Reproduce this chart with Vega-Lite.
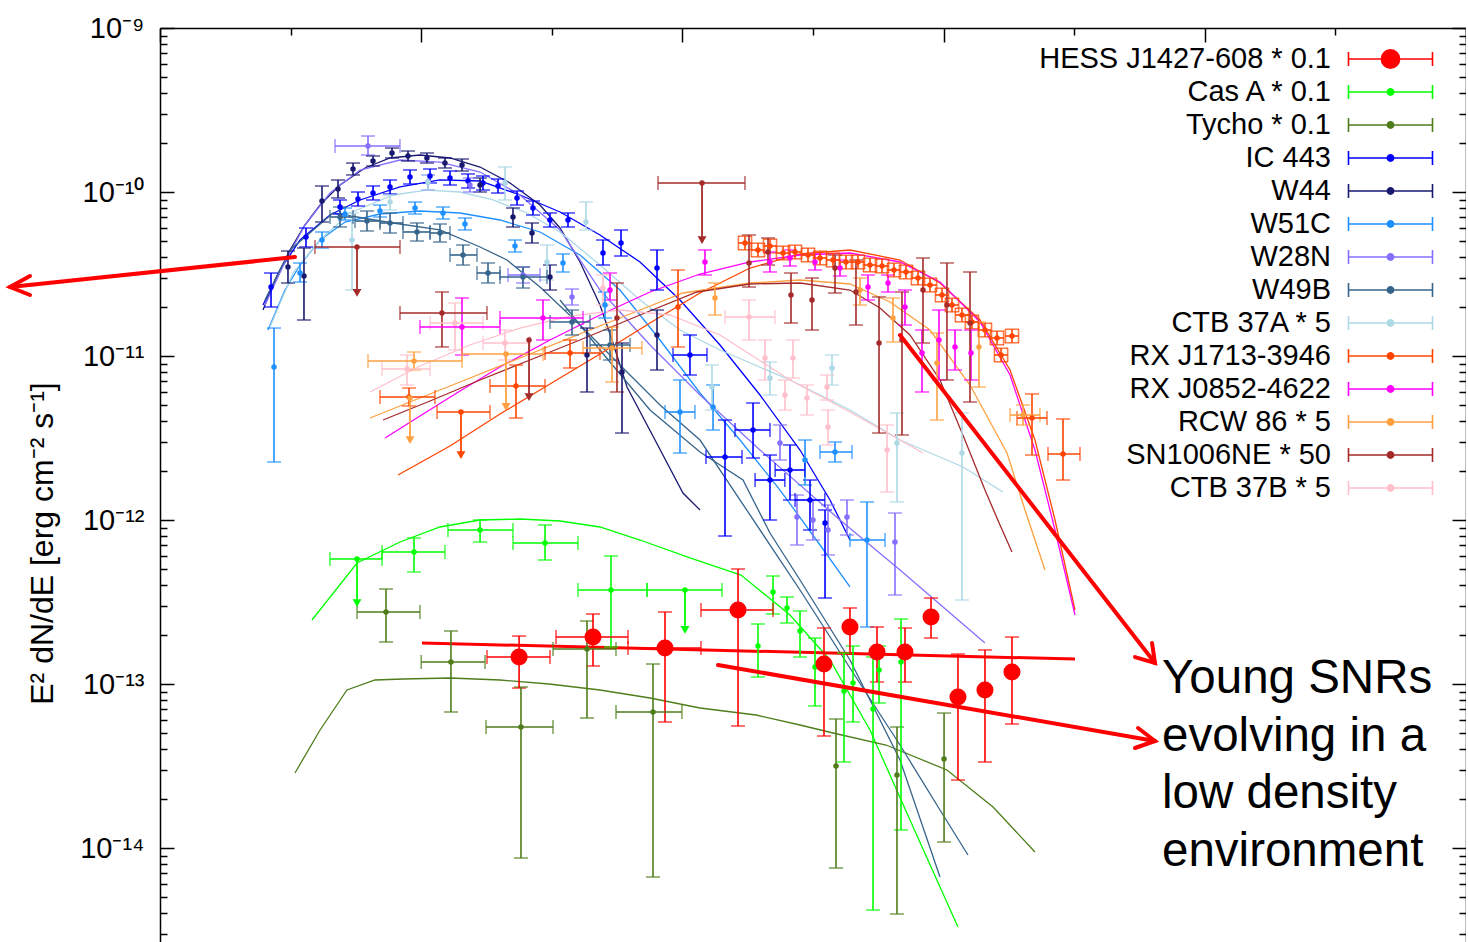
{
"$schema": "https://vega.github.io/schema/vega-lite/v6.json",
"width": 1306, "height": 914,
"autosize": {"type": "none"},
"padding": {"left": 160, "top": 28, "right": 0, "bottom": 0},
"background": "white",
"config": {"view": {"stroke": null}, "font": "Liberation Sans"},
"datasets": {
"pts": [
{"s":"HESS J1427-608 * 0.1","x":2.37,"y":1.46e-13,"lo":9.45e-14,"hi":1.96e-13,"xl":1.786,"xh":3.112},
{"s":"HESS J1427-608 * 0.1","x":4.547,"y":1.934e-13,"lo":1.288e-13,"hi":2.672e-13,"xl":3.282,"xh":6.19},
{"s":"HESS J1427-608 * 0.1","x":8.578,"y":1.658e-13,"lo":5.867e-14,"hi":2.748e-13,"xl":6.19,"xh":11.78},
{"s":"HESS J1427-608 * 0.1","x":16.33,"y":2.826e-13,"lo":5.546e-14,"hi":5.026e-13,"xl":11.78,"xh":22.23},
{"s":"HESS J1427-608 * 0.1","x":34.84,"y":1.324e-13,"lo":4.818e-14,"hi":2.195e-13},
{"s":"HESS J1427-608 * 0.1","x":43.81,"y":2.226e-13,"lo":1.545e-13,"hi":2.907e-13},
{"s":"HESS J1427-608 * 0.1","x":55.59,"y":1.567e-13,"lo":1.028e-13,"hi":2.226e-13},
{"s":"HESS J1427-608 * 0.1","x":71.15,"y":1.567e-13,"lo":1.028e-13,"hi":2.195e-13},
{"s":"HESS J1427-608 * 0.1","x":89.51,"y":2.561e-13,"lo":1.907e-13,"hi":3.345e-13},
{"s":"HESS J1427-608 * 0.1","x":113.5,"y":8.331e-14,"lo":2.597e-14,"hi":1.523e-13},
{"s":"HESS J1427-608 * 0.1","x":144,"y":9.192e-14,"lo":3.345e-14,"hi":1.612e-13},
{"s":"HESS J1427-608 * 0.1","x":182.7,"y":1.184e-13,"lo":5.704e-14,"hi":1.934e-13},
{"s":"Cas A * 0.1","x":0.568,"y":5.784e-13,"ul":3.118e-13,"xl":0.4475,"xh":0.708},
{"s":"Cas A * 0.1","x":0.9385,"y":6.381e-13,"lo":4.818e-13,"hi":7.767e-13,"xl":0.708,"xh":1.233},
{"s":"Cas A * 0.1","x":1.68,"y":8.69e-13,"lo":7.343e-13,"hi":1e-12,"xl":1.266,"xh":2.246},
{"s":"Cas A * 0.1","x":2.979,"y":7.24e-13,"lo":5.704e-13,"hi":9.322e-13,"xl":2.246,"xh":3.984},
{"s":"Cas A * 0.1","x":5.33,"y":3.743e-13,"lo":1.681e-13,"hi":6.033e-13,"xl":3.984,"xh":7.32},
{"s":"Cas A * 0.1","x":10.23,"y":3.743e-13,"ul":2.135e-13,"xl":7.32,"xh":14.18},
{"s":"Cas A * 0.1","x":19.47,"y":1.705e-13,"lo":1.103e-13,"hi":2.322e-13},
{"s":"Cas A * 0.1","x":22.23,"y":3.639e-13,"lo":2.672e-13,"hi":4.555e-13},
{"s":"Cas A * 0.1","x":25.15,"y":2.907e-13,"lo":2.355e-13,"hi":3.392e-13},
{"s":"Cas A * 0.1","x":28.2,"y":2.105e-13,"lo":1.46e-13,"hi":2.787e-13},
{"s":"Cas A * 0.1","x":32.19,"y":1.27e-13,"lo":7.343e-14,"hi":1.907e-13},
{"s":"Cas A * 0.1","x":41.56,"y":9.064e-14,"lo":3.345e-14,"hi":1.545e-13},
{"s":"Cas A * 0.1","x":44.99,"y":1.014e-13,"lo":5.867e-14,"hi":1.705e-13},
{"s":"Cas A * 0.1","x":53.67,"y":7.04e-14,"lo":4.188e-15,"hi":1.46e-13},
{"s":"Cas A * 0.1","x":56.6,"y":1.217e-13,"lo":7.658e-14,"hi":1.705e-13},
{"s":"Cas A * 0.1","x":68.7,"y":1.362e-13,"lo":1.288e-14,"hi":2.49e-13},
{"s":"Tycho * 0.1","x":0.7333,"y":2.748e-13,"lo":1.804e-13,"hi":3.796e-13,"xl":0.5679,"xh":0.989},
{"s":"Tycho * 0.1","x":1.3,"y":1.362e-13,"lo":6.75e-14,"hi":2.105e-13,"xl":1.0,"xh":1.755},
{"s":"Tycho * 0.1","x":2.41,"y":5.467e-14,"lo":8.69e-15,"hi":9.588e-14,"xl":1.771,"xh":3.196},
{"s":"Tycho * 0.1","x":4.313,"y":1.635e-13,"lo":6.205e-14,"hi":2.422e-13,"xl":3.196,"xh":5.569},
{"s":"Tycho * 0.1","x":7.717,"y":6.75e-14,"lo":6.655e-15,"hi":1.324e-13,"xl":5.569,"xh":9.96},
{"s":"Tycho * 0.1","x":38.73,"y":3.162e-14,"lo":7.551e-15,"hi":6.118e-14},
{"s":"Tycho * 0.1","x":66.3,"y":2.787e-14,"lo":3.959e-15,"hi":5.467e-14},
{"s":"Tycho * 0.1","x":100.4,"y":3.488e-14,"lo":1.088e-14,"hi":6.655e-14},
{"s":"IC 443","x":0.2661,"y":2.634e-11,"lo":1.99e-11,"hi":3.207e-11},
{"s":"IC 443","x":0.3622,"y":5.316e-11,"lo":4.619e-11,"hi":6.033e-11},
{"s":"IC 443","x":0.4888,"y":8.1e-11,"lo":7.343e-11,"hi":8.939e-11},
{"s":"IC 443","x":0.5728,"y":9.064e-11,"lo":8.214e-11,"hi":1e-10},
{"s":"IC 443","x":0.6539,"y":9.86e-11,"lo":8.939e-11,"hi":1.088e-10},
{"s":"IC 443","x":0.7596,"y":1.073e-10,"lo":9.723e-11,"hi":1.184e-10},
{"s":"IC 443","x":0.906,"y":1.234e-10,"lo":1.119e-10,"hi":1.362e-10},
{"s":"IC 443","x":1.081,"y":1.252e-10,"lo":1.135e-10,"hi":1.381e-10},
{"s":"IC 443","x":1.289,"y":1.217e-10,"lo":1.103e-10,"hi":1.343e-10},
{"s":"IC 443","x":1.511,"y":1.167e-10,"lo":1.058e-10,"hi":1.288e-10},
{"s":"IC 443","x":1.724,"y":1.135e-10,"lo":1.028e-10,"hi":1.252e-10},
{"s":"IC 443","x":1.968,"y":1.088e-10,"lo":9.86e-11,"hi":1.2e-10},
{"s":"IC 443","x":2.327,"y":9.192e-11,"lo":8.331e-11,"hi":1.014e-10},
{"s":"IC 443","x":2.679,"y":7.987e-11,"lo":7.24e-11,"hi":8.812e-11},
{"s":"IC 443","x":3.112,"y":6.75e-11,"lo":6.118e-11,"hi":7.447e-11},
{"s":"IC 443","x":3.648,"y":6.75e-11,"lo":6.118e-11,"hi":7.447e-11},
{"s":"IC 443","x":4.966,"y":4.246e-11,"lo":3.588e-11,"hi":5.096e-11},
{"s":"IC 443","x":5.82,"y":4.887e-11,"lo":4.071e-11,"hi":5.867e-11},
{"s":"IC 443","x":7.994,"y":3.44e-11,"lo":2.526e-11,"hi":4.43e-11},
{"s":"IC 443","x":10.69,"y":1.014e-11,"lo":7.658e-12,"hi":1.343e-11,"xl":9.204,"xh":12.42},
{"s":"IC 443","x":14.56,"y":2.422e-12,"lo":7.987e-13,"hi":4.071e-12,"xl":12.31,"xh":16.91},
{"s":"IC 443","x":18.64,"y":3.538e-12,"lo":2.388e-12,"hi":5.168e-12,"xl":15.9,"xh":21.64},
{"s":"IC 443","x":21.64,"y":1.753e-12,"lo":1e-12,"hi":2.49e-12,"xl":18.98,"xh":24.67},
{"s":"IC 443","x":25.82,"y":2.018e-12,"lo":1.324e-12,"hi":2.867e-12,"xl":22.65,"xh":29.43},
{"s":"IC 443","x":30.8,"y":1.324e-12,"lo":8.69e-13,"hi":1.753e-12,"xl":27.0,"xh":35.1},
{"s":"IC 443","x":35.16,"y":9.588e-13,"lo":3.345e-13,"hi":1.151e-12},
{"s":"W44","x":0.309,"y":3.488e-11,"lo":2.787e-11,"hi":4.367e-11},
{"s":"W44","x":0.3558,"y":3.074e-11,"lo":1.658e-11,"hi":4.555e-11},
{"s":"W44","x":0.4171,"y":8.812e-11,"lo":6.563e-11,"hi":1.088e-10},
{"s":"W44","x":0.4802,"y":1.043e-10,"lo":9.192e-11,"hi":1.184e-10},
{"s":"W44","x":0.5482,"y":1.381e-10,"lo":1.27e-10,"hi":1.502e-10},
{"s":"W44","x":0.6539,"y":1.545e-10,"lo":1.44e-10,"hi":1.658e-10},
{"s":"W44","x":0.7731,"y":1.729e-10,"lo":1.612e-10,"hi":1.855e-10},
{"s":"W44","x":0.8903,"y":1.658e-10,"lo":1.545e-10,"hi":1.778e-10},
{"s":"W44","x":1.052,"y":1.612e-10,"lo":1.502e-10,"hi":1.729e-10},
{"s":"W44","x":1.233,"y":1.502e-10,"lo":1.401e-10,"hi":1.612e-10},
{"s":"W44","x":1.433,"y":1.461e-10,"lo":1.343e-10,"hi":1.589e-10},
{"s":"W44","x":1.68,"y":1.103e-10,"lo":1e-10,"hi":1.217e-10},
{"s":"W44","x":2.246,"y":7.04e-11,"lo":6.118e-11,"hi":7.987e-11},
{"s":"W44","x":2.656,"y":5.623e-11,"lo":4.887e-11,"hi":6.471e-11},
{"s":"W44","x":3.112,"y":3.031e-11,"lo":2.526e-11,"hi":3.588e-11},
{"s":"W44","x":4.313,"y":1.014e-11,"lo":6.033e-12,"hi":1.481e-11},
{"s":"W44","x":5.872,"y":7.987e-12,"lo":3.392e-12,"hi":1.2e-11},
{"s":"W44","x":7.994,"y":1.343e-11,"lo":8.214e-12,"hi":1.907e-11},
{"s":"W51C","x":0.2732,"y":8.568e-12,"lo":2.258e-12,"hi":1.481e-11},
{"s":"W51C","x":0.3436,"y":3.207e-11,"lo":2.826e-11,"hi":3.691e-11},
{"s":"W51C","x":0.4171,"y":5.096e-11,"lo":4.555e-11,"hi":5.704e-11},
{"s":"W51C","x":0.5109,"y":7.343e-11,"lo":6.75e-11,"hi":7.987e-11},
{"s":"W51C","x":0.6955,"y":7.658e-11,"lo":7.04e-11,"hi":8.331e-11},
{"s":"W51C","x":0.947,"y":7.987e-11,"lo":7.343e-11,"hi":8.69e-11},
{"s":"W51C","x":1.212,"y":7.447e-11,"lo":6.845e-11,"hi":8.1e-11},
{"s":"W51C","x":1.471,"y":6.381e-11,"lo":5.867e-11,"hi":6.942e-11},
{"s":"W51C","x":2.286,"y":4.685e-11,"lo":4.306e-11,"hi":5.096e-11},
{"s":"W51C","x":3.49,"y":3.691e-11,"lo":3.252e-11,"hi":4.188e-11},
{"s":"W51C","x":5.055,"y":2.046e-11,"lo":1.705e-11,"hi":2.456e-11},
{"s":"W51C","x":9.79,"y":4.555e-12,"lo":2.561e-12,"hi":7.14e-12,"xl":8.578,"xh":11.17},
{"s":"W51C","x":13.1,"y":4.887e-12,"lo":3.538e-12,"hi":6.655e-12},
{"s":"W51C","x":29.47,"y":2.322e-12,"lo":1.635e-12,"hi":3.074e-12},
{"s":"W51C","x":38.39,"y":2.597e-12,"lo":2.258e-12,"hi":2.989e-12,"xl":33.64,"xh":44.61},
{"s":"W51C","x":50.9,"y":7.551e-13,"lo":2.226e-13,"hi":1.288e-12,"xl":43.81,"xh":59.66},
{"s":"W28N","x":0.6256,"y":1.907e-10,"lo":1.681e-10,"hi":2.195e-10,"xl":0.4677,"xh":0.8294},
{"s":"W28N","x":1.062,"y":1.151e-10,"lo":1.028e-10,"hi":1.27e-10},
{"s":"W28N","x":1.537,"y":1.103e-10,"lo":1e-10,"hi":1.217e-10},
{"s":"W28N","x":2.453,"y":3.118e-11,"lo":2.787e-11,"hi":3.488e-11,"xl":2.149,"xh":2.85},
{"s":"W28N","x":3.779,"y":2.29e-11,"lo":2.046e-11,"hi":2.561e-11},
{"s":"W28N","x":23.64,"y":2.948e-12,"lo":2.322e-12,"hi":3.796e-12},
{"s":"W28N","x":27.46,"y":1.043e-12,"lo":7.04e-13,"hi":1.42e-12},
{"s":"W28N","x":31.62,"y":1e-12,"lo":7.551e-13,"hi":1.324e-12},
{"s":"W28N","x":36.1,"y":8.69e-13,"lo":6.118e-13,"hi":1.234e-12},
{"s":"W28N","x":42.67,"y":1.043e-12,"lo":8.1e-13,"hi":1.324e-12},
{"s":"W28N","x":65.15,"y":7.343e-13,"lo":3.488e-13,"hi":1.103e-12},
{"s":"W49B","x":0.4888,"y":7.04e-11,"lo":6.118e-11,"hi":8.1e-11,"xl":0.4475,"xh":0.5482},
{"s":"W49B","x":0.62,"y":6.655e-11,"lo":5.784e-11,"hi":7.658e-11,"xl":0.558,"xh":0.6955},
{"s":"W49B","x":0.7596,"y":6.471e-11,"lo":5.623e-11,"hi":7.447e-11,"xl":0.6955,"xh":0.8518},
{"s":"W49B","x":0.9636,"y":5.704e-11,"lo":5.026e-11,"hi":6.471e-11,"xl":0.8518,"xh":1.081},
{"s":"W49B","x":1.18,"y":5.623e-11,"lo":4.956e-11,"hi":6.381e-11,"xl":1.081,"xh":1.289},
{"s":"W49B","x":1.446,"y":4.13e-11,"lo":3.588e-11,"hi":4.751e-11,"xl":1.289,"xh":1.635},
{"s":"W49B","x":1.802,"y":3.207e-11,"lo":2.787e-11,"hi":3.691e-11,"xl":1.635,"xh":2.003},
{"s":"W49B","x":2.453,"y":3.031e-11,"lo":2.597e-11,"hi":3.488e-11,"xl":2.003,"xh":3.031},
{"s":"W49B","x":3.779,"y":1.612e-11,"lo":1.343e-11,"hi":1.907e-11,"xl":3.112,"xh":4.43},
{"s":"W49B","x":5.283,"y":1.167e-11,"lo":9.454e-12,"hi":1.44e-11,"xl":4.43,"xh":6.301},
{"s":"CTB 37A * 5","x":0.5434,"y":5.096e-11,"lo":2.526e-11,"hi":7.447e-11},
{"s":"CTB 37A * 5","x":0.7596,"y":8.69e-11,"lo":7.767e-11,"hi":9.588e-11},
{"s":"CTB 37A * 5","x":1.062,"y":1.151e-10,"lo":1.028e-10,"hi":1.27e-10},
{"s":"CTB 37A * 5","x":2.094,"y":1.135e-10,"lo":8.939e-11,"hi":1.42e-10},
{"s":"CTB 37A * 5","x":4.274,"y":6.563e-11,"lo":5.867e-11,"hi":8.69e-11},
{"s":"CTB 37A * 5","x":3.031,"y":3.743e-11,"lo":2.907e-11,"hi":4.751e-11},
{"s":"CTB 37A * 5","x":12.98,"y":6.471e-12,"lo":4.685e-12,"hi":8.812e-12},
{"s":"CTB 37A * 5","x":21.64,"y":7.343e-12,"lo":5.784e-12,"hi":9.192e-12},
{"s":"CTB 37A * 5","x":37.39,"y":8.452e-12,"lo":6.655e-12,"hi":1.014e-11},
{"s":"CTB 37A * 5","x":66.3,"y":2.948e-12,"lo":1.288e-12,"hi":4.492e-12},
{"s":"CTB 37A * 5","x":117.6,"y":2.561e-12,"lo":3.252e-13,"hi":4.492e-12},
{"s":"RX J1713-3946","x":0.8982,"y":5.623e-12,"lo":4.956e-12,"hi":6.381e-12,"xl":0.6955,"xh":1.129},
{"s":"RX J1713-3946","x":1.42,"y":4.555e-12,"ul":2.49e-12,"xl":1.15,"xh":1.834},
{"s":"RX J1713-3946","x":2.306,"y":6.563e-12,"lo":4.188e-12,"hi":8.812e-12,"xl":1.834,"xh":2.979},
{"s":"RX J1713-3946","x":3.713,"y":1.043e-11,"lo":8.452e-12,"hi":1.252e-11,"xl":2.979,"xh":4.836},
{"s":"RX J1713-3946","x":9.621,"y":1.99e-11,"lo":1.135e-11,"hi":3.345e-11},
{"s":"RX J1713-3946","x":17.36,"y":4.887e-11,"lo":4.443e-11,"hi":5.376e-11,"xl":16.38,"xh":18.4},
{"s":"RX J1713-3946","x":19.47,"y":4.43e-11,"lo":4.027e-11,"hi":4.873e-11,"xl":18.37,"xh":20.64},
{"s":"RX J1713-3946","x":21.64,"y":4.685e-11,"lo":4.259e-11,"hi":5.154e-11,"xl":20.42,"xh":22.94},
{"s":"RX J1713-3946","x":24.28,"y":4.246e-11,"lo":3.86e-11,"hi":4.671e-11,"xl":22.91,"xh":25.74},
{"s":"RX J1713-3946","x":26.99,"y":4.306e-11,"lo":3.915e-11,"hi":4.737e-11,"xl":25.46,"xh":28.61},
{"s":"RX J1713-3946","x":30.26,"y":4.13e-11,"lo":3.755e-11,"hi":4.543e-11,"xl":28.55,"xh":32.08},
{"s":"RX J1713-3946","x":33.64,"y":3.959e-11,"lo":3.599e-11,"hi":4.355e-11,"xl":31.74,"xh":35.66},
{"s":"RX J1713-3946","x":37.72,"y":3.849e-11,"lo":3.499e-11,"hi":4.234e-11,"xl":35.58,"xh":39.98},
{"s":"RX J1713-3946","x":42.3,"y":3.743e-11,"lo":3.403e-11,"hi":4.117e-11,"xl":39.91,"xh":44.84},
{"s":"RX J1713-3946","x":47.02,"y":3.743e-11,"lo":3.403e-11,"hi":4.117e-11,"xl":44.36,"xh":49.84},
{"s":"RX J1713-3946","x":52.26,"y":3.588e-11,"lo":3.262e-11,"hi":3.947e-11,"xl":49.3,"xh":55.4},
{"s":"RX J1713-3946","x":58.1,"y":3.538e-11,"lo":3.216e-11,"hi":3.892e-11,"xl":54.81,"xh":61.59},
{"s":"RX J1713-3946","x":64.58,"y":3.345e-11,"lo":3.041e-11,"hi":3.68e-11,"xl":60.92,"xh":68.45},
{"s":"RX J1713-3946","x":71.78,"y":3.252e-11,"lo":2.956e-11,"hi":3.577e-11,"xl":67.72,"xh":76.09},
{"s":"RX J1713-3946","x":79.8,"y":2.989e-11,"lo":2.717e-11,"hi":3.288e-11,"xl":75.28,"xh":84.59},
{"s":"RX J1713-3946","x":88.72,"y":2.709e-11,"lo":2.463e-11,"hi":2.98e-11,"xl":83.7,"xh":94.04},
{"s":"RX J1713-3946","x":98.6,"y":2.355e-11,"lo":2.141e-11,"hi":2.591e-11,"xl":93.02,"xh":104.5},
{"s":"RX J1713-3946","x":107.7,"y":2.046e-11,"lo":1.86e-11,"hi":2.251e-11,"xl":101.6,"xh":114.2},
{"s":"RX J1713-3946","x":117.6,"y":1.778e-11,"lo":1.616e-11,"hi":1.956e-11,"xl":110.9,"xh":124.7},
{"s":"RX J1713-3946","x":128.4,"y":1.612e-11,"lo":1.465e-11,"hi":1.773e-11,"xl":121.1,"xh":136.1},
{"s":"RX J1713-3946","x":144,"y":1.44e-11,"lo":1.309e-11,"hi":1.584e-11,"xl":135.8,"xh":152.6},
{"s":"RX J1713-3946","x":160.1,"y":1.288e-11,"lo":1.171e-11,"hi":1.417e-11,"xl":151,"xh":169.7},
{"s":"RX J1713-3946","x":182.7,"y":1.324e-11,"lo":1.204e-11,"hi":1.456e-11,"xl":172.4,"xh":193.7},
{"s":"RX J1713-3946","x":165.9,"y":1.014e-11,"lo":9.218e-12,"hi":1.115e-11,"xl":156.5,"xh":175.9},
{"s":"RX J1713-3946","x":218,"y":4.188e-12,"lo":2.49e-12,"hi":5.867e-12,"xl":191,"xh":248.8},
{"s":"RX J1713-3946","x":286.5,"y":2.526e-12,"lo":1.753e-12,"hi":4.13e-12,"xl":251,"xh":332.8},
{"s":"RX J0852-4622","x":1.433,"y":1.502e-11,"lo":1.014e-11,"hi":2.258e-11,"xl":0.989,"xh":2.003},
{"s":"RX J0852-4622","x":2.926,"y":1.705e-11,"lo":1.252e-11,"hi":2.195e-11,"xl":2.003,"xh":4.164},
{"s":"RX J0852-4622","x":5.283,"y":2.526e-11,"lo":2.195e-11,"hi":3.207e-11},
{"s":"RX J0852-4622","x":12.2,"y":3.743e-11,"lo":3.118e-11,"hi":4.43e-11},
{"s":"RX J0852-4622","x":21.64,"y":3.743e-11,"lo":3.252e-11,"hi":4.306e-11},
{"s":"RX J0852-4622","x":25.82,"y":3.959e-11,"lo":3.538e-11,"hi":4.43e-11},
{"s":"RX J0852-4622","x":32.19,"y":3.743e-11,"lo":3.345e-11,"hi":4.188e-11},
{"s":"RX J0852-4622","x":40.12,"y":3.44e-11,"lo":3.074e-11,"hi":3.849e-11},
{"s":"RX J0852-4622","x":51.35,"y":2.634e-11,"lo":2.195e-11,"hi":3.118e-11},
{"s":"RX J0852-4622","x":61.26,"y":2.787e-11,"lo":2.456e-11,"hi":3.118e-11},
{"s":"RX J0852-4622","x":71.15,"y":1.99e-11,"lo":1.545e-11,"hi":2.526e-11},
{"s":"RX J0852-4622","x":82.66,"y":1.043e-11,"lo":6.033e-12,"hi":1.44e-11},
{"s":"RX J0852-4622","x":96.03,"y":1.252e-11,"lo":7.14e-12,"hi":1.907e-11},
{"s":"RX J0852-4622","x":110.6,"y":1.135e-11,"lo":8.214e-12,"hi":1.44e-11},
{"s":"RX J0852-4622","x":127.3,"y":1.043e-11,"lo":7.14e-12,"hi":1.44e-11},
{"s":"RCW 86 * 5","x":0.9385,"y":9.322e-12,"lo":8.214e-12,"hi":1.058e-11,"xl":0.6256,"xh":1.433},
{"s":"RCW 86 * 5","x":2.112,"y":1.028e-11,"ul":4.887e-12,"xl":1.433,"xh":2.926},
{"s":"RCW 86 * 5","x":0.906,"y":5.546e-12,"ul":3.074e-12},
{"s":"RCW 86 * 5","x":5.377,"y":1.119e-11,"lo":6.942e-12,"hi":1.502e-11,"xl":4.164,"xh":7.004},
{"s":"RCW 86 * 5","x":13.33,"y":2.258e-11,"lo":1.778e-11,"hi":2.787e-11},
{"s":"RCW 86 * 5","x":47.86,"y":2.526e-11,"lo":2.046e-11,"hi":2.989e-11},
{"s":"RCW 86 * 5","x":64.01,"y":1.705e-11,"lo":1.217e-11,"hi":2.258e-11},
{"s":"RCW 86 * 5","x":94.35,"y":9.064e-12,"lo":4.071e-12,"hi":1.381e-11},
{"s":"RCW 86 * 5","x":136.6,"y":1.135e-11,"lo":6.471e-12,"hi":1.612e-11},
{"s":"RCW 86 * 5","x":201.4,"y":4.367e-12,"lo":3.796e-12,"hi":5.026e-12,"xl":179.6,"xh":233.9},
{"s":"SN1006NE * 50","x":0.5679,"y":4.619e-11,"ul":2.422e-11,"xl":0.392,"xh":0.8294},
{"s":"SN1006NE * 50","x":1.201,"y":1.829e-11,"lo":1.135e-11,"hi":2.456e-11,"xl":0.8294,"xh":1.786},
{"s":"SN1006NE * 50","x":2.587,"y":1.252e-11,"ul":5.623e-12},
{"s":"SN1006NE * 50","x":5.617,"y":1.705e-11,"lo":6.033e-12,"hi":2.787e-11},
{"s":"SN1006NE * 50","x":11.89,"y":1.135e-10,"ul":5.096e-11,"xl":8.066,"xh":17.36},
{"s":"SN1006NE * 50","x":17.99,"y":3.691e-11,"lo":2.634e-11,"hi":5.467e-11},
{"s":"SN1006NE * 50","x":21.27,"y":4.306e-11,"lo":3.588e-11,"hi":5.243e-11},
{"s":"SN1006NE * 50","x":26.05,"y":2.355e-11,"lo":1.589e-11,"hi":3.207e-11},
{"s":"SN1006NE * 50","x":31.35,"y":2.195e-11,"lo":1.44e-11,"hi":2.989e-11},
{"s":"SN1006NE * 50","x":38.39,"y":3.44e-11,"lo":2.422e-11,"hi":4.13e-11},
{"s":"SN1006NE * 50","x":46.19,"y":2.456e-11,"lo":1.545e-11,"hi":3.849e-11},
{"s":"SN1006NE * 50","x":56.6,"y":1.2e-11,"lo":3.392e-12,"hi":2.29e-11},
{"s":"SN1006NE * 50","x":69.29,"y":1.252e-11,"lo":3.298e-12,"hi":2.456e-11},
{"s":"SN1006NE * 50","x":83.39,"y":2.526e-11,"lo":1.2e-11,"hi":3.959e-11},
{"s":"SN1006NE * 50","x":103,"y":2.046e-11,"lo":7.14e-12,"hi":3.691e-11},
{"s":"SN1006NE * 50","x":126.2,"y":1.589e-11,"lo":5.243e-12,"hi":3.252e-11},
{"s":"CTB 37B * 5","x":0.8825,"y":8.331e-12,"lo":6.655e-12,"hi":1.014e-11,"xl":0.708,"xh":1.081},
{"s":"CTB 37B * 5","x":1.347,"y":1.589e-11,"lo":1.088e-11,"hi":2.105e-11,"xl":1.081,"xh":1.724},
{"s":"CTB 37B * 5","x":2.094,"y":1.2e-11,"lo":9.454e-12,"hi":1.44e-11,"xl":1.724,"xh":2.609},
{"s":"CTB 37B * 5","x":4.966,"y":2.597e-11,"lo":2.046e-11,"hi":3.118e-11},
{"s":"CTB 37B * 5","x":17.99,"y":1.729e-11,"lo":1.252e-11,"hi":2.195e-11,"xl":14.56,"xh":22.62},
{"s":"CTB 37B * 5","x":20.71,"y":9.723e-12,"lo":7.14e-12,"hi":1.252e-11},
{"s":"CTB 37B * 5","x":26.51,"y":9.723e-12,"lo":7.343e-12,"hi":1.252e-11},
{"s":"CTB 37B * 5","x":24.71,"y":5.784e-12,"lo":4.685e-12,"hi":7.14e-12},
{"s":"CTB 37B * 5","x":29.99,"y":5.546e-12,"lo":4.367e-12,"hi":6.655e-12},
{"s":"CTB 37B * 5","x":35.78,"y":6.471e-12,"lo":5.39e-12,"hi":7.658e-12},
{"s":"CTB 37B * 5","x":36.1,"y":3.691e-12,"lo":2.867e-12,"hi":4.685e-12},
{"s":"CTB 37B * 5","x":60.73,"y":2.672e-12,"lo":1.481e-12,"hi":3.796e-12}
],
"curves": [
{"s":"Cas A * 0.1","c":"ca","x":0.3818,"y":2.456e-13},{"s":"Cas A * 0.1","c":"ca","x":0.5679,"y":5.467e-13},{"s":"Cas A * 0.1","c":"ca","x":0.8294,"y":7.343e-13},{"s":"Cas A * 0.1","c":"ca","x":1.18,"y":9.064e-13},{"s":"Cas A * 0.1","c":"ca","x":1.68,"y":1e-12},{"s":"Cas A * 0.1","c":"ca","x":2.389,"y":1.014e-12},{"s":"Cas A * 0.1","c":"ca","x":3.4,"y":9.86e-13},{"s":"Cas A * 0.1","c":"ca","x":4.836,"y":9.064e-13},{"s":"Cas A * 0.1","c":"ca","x":6.882,"y":7.551e-13},{"s":"Cas A * 0.1","c":"ca","x":10.69,"y":5.867e-13},{"s":"Cas A * 0.1","c":"ca","x":16.76,"y":4.619e-13},{"s":"Cas A * 0.1","c":"ca","x":25.82,"y":2.634e-13},{"s":"Cas A * 0.1","c":"ca","x":36.74,"y":1.401e-13},{"s":"Cas A * 0.1","c":"ca","x":52.26,"y":5.243e-14},{"s":"Cas A * 0.1","c":"ca","x":74.36,"y":1.481e-14},{"s":"Cas A * 0.1","c":"ca","x":113.5,"y":3.298e-15},
{"s":"Tycho * 0.1","c":"ty","x":0.3287,"y":2.867e-14},{"s":"Tycho * 0.1","c":"ty","x":0.41,"y":5.243e-14},{"s":"Tycho * 0.1","c":"ty","x":0.5198,"y":9.192e-14},{"s":"Tycho * 0.1","c":"ty","x":0.6654,"y":1.058e-13},{"s":"Tycho * 0.1","c":"ty","x":0.8518,"y":1.073e-13},{"s":"Tycho * 0.1","c":"ty","x":1.289,"y":1.088e-13},{"s":"Tycho * 0.1","c":"ty","x":2.003,"y":1.058e-13},{"s":"Tycho * 0.1","c":"ty","x":3.085,"y":1e-13},{"s":"Tycho * 0.1","c":"ty","x":4.836,"y":9.192e-14},{"s":"Tycho * 0.1","c":"ty","x":7.516,"y":8.214e-14},{"s":"Tycho * 0.1","c":"ty","x":11.68,"y":7.14e-14},{"s":"Tycho * 0.1","c":"ty","x":19.13,"y":6.471e-14},{"s":"Tycho * 0.1","c":"ty","x":28.2,"y":5.623e-14},{"s":"Tycho * 0.1","c":"ty","x":37.72,"y":5.026e-14},{"s":"Tycho * 0.1","c":"ty","x":60.18,"y":4.246e-14},{"s":"Tycho * 0.1","c":"ty","x":103,"y":2.989e-14},{"s":"Tycho * 0.1","c":"ty","x":154.6,"y":1.778e-14},{"s":"Tycho * 0.1","c":"ty","x":223.8,"y":9.454e-15},
{"s":"IC 443","c":"ic","x":0.2479,"y":2.046e-11},{"s":"IC 443","c":"ic","x":0.2881,"y":3.345e-11},{"s":"IC 443","c":"ic","x":0.3436,"y":5.096e-11},{"s":"IC 443","c":"ic","x":0.4475,"y":7.24e-11},{"s":"IC 443","c":"ic","x":0.5831,"y":8.939e-11},{"s":"IC 443","c":"ic","x":0.8294,"y":1.073e-10},{"s":"IC 443","c":"ic","x":1.18,"y":1.184e-10},{"s":"IC 443","c":"ic","x":1.68,"y":1.167e-10},{"s":"IC 443","c":"ic","x":2.389,"y":9.588e-11},{"s":"IC 443","c":"ic","x":3.4,"y":7.551e-11},{"s":"IC 443","c":"ic","x":4.836,"y":5.467e-11},{"s":"IC 443","c":"ic","x":6.882,"y":3.743e-11},{"s":"IC 443","c":"ic","x":9.79,"y":2.195e-11},{"s":"IC 443","c":"ic","x":13.93,"y":1.167e-11},{"s":"IC 443","c":"ic","x":19.82,"y":5.784e-12},{"s":"IC 443","c":"ic","x":28.2,"y":2.672e-12},{"s":"IC 443","c":"ic","x":36.74,"y":1.324e-12},{"s":"IC 443","c":"ic","x":43.81,"y":7.551e-13},
{"s":"W44","c":"w44","x":0.2479,"y":1.907e-11},{"s":"W44","c":"w44","x":0.2756,"y":2.907e-11},{"s":"W44","c":"w44","x":0.3146,"y":4.43e-11},{"s":"W44","c":"w44","x":0.359,"y":6.293e-11},{"s":"W44","c":"w44","x":0.41,"y":8.331e-11},{"s":"W44","c":"w44","x":0.4888,"y":1.103e-10},{"s":"W44","c":"w44","x":0.6093,"y":1.401e-10},{"s":"W44","c":"w44","x":0.7596,"y":1.612e-10},{"s":"W44","c":"w44","x":0.989,"y":1.681e-10},{"s":"W44","c":"w44","x":1.289,"y":1.612e-10},{"s":"W44","c":"w44","x":1.68,"y":1.42e-10},{"s":"W44","c":"w44","x":2.188,"y":1.135e-10},{"s":"W44","c":"w44","x":2.85,"y":8.331e-11},{"s":"W44","c":"w44","x":3.4,"y":6.033e-11},{"s":"W44","c":"w44","x":4.055,"y":3.743e-11},{"s":"W44","c":"w44","x":4.836,"y":2.046e-11},{"s":"W44","c":"w44","x":5.377,"y":1.252e-11},{"s":"W44","c":"w44","x":6.137,"y":6.471e-12},{"s":"W44","c":"w44","x":7.856,"y":3.074e-12},{"s":"W44","c":"w44","x":10.05,"y":1.461e-12},{"s":"W44","c":"w44","x":11.68,"y":1.151e-12},
{"s":"W51C","c":"w51","x":0.2591,"y":1.44e-11},{"s":"W51C","c":"w51","x":0.301,"y":2.526e-11},{"s":"W51C","c":"w51","x":0.3436,"y":3.588e-11},{"s":"W51C","c":"w51","x":0.41,"y":5.096e-11},{"s":"W51C","c":"w51","x":0.5109,"y":6.563e-11},{"s":"W51C","c":"w51","x":0.6955,"y":7.343e-11},{"s":"W51C","c":"w51","x":0.989,"y":7.658e-11},{"s":"W51C","c":"w51","x":1.408,"y":7.447e-11},{"s":"W51C","c":"w51","x":2.003,"y":6.75e-11},{"s":"W51C","c":"w51","x":2.85,"y":5.704e-11},{"s":"W51C","c":"w51","x":4.055,"y":4.13e-11},{"s":"W51C","c":"w51","x":5.768,"y":2.526e-11},{"s":"W51C","c":"w51","x":8.209,"y":1.252e-11},{"s":"W51C","c":"w51","x":11.68,"y":5.949e-12},{"s":"W51C","c":"w51","x":16.62,"y":3.074e-12},{"s":"W51C","c":"w51","x":23.64,"y":1.523e-12},{"s":"W51C","c":"w51","x":33.64,"y":7.04e-13},{"s":"W51C","c":"w51","x":43.81,"y":3.904e-13},
{"s":"W28N","c":"w28","x":0.2523,"y":2.046e-11},{"s":"W28N","c":"w28","x":0.301,"y":3.743e-11},{"s":"W28N","c":"w28","x":0.359,"y":6.293e-11},{"s":"W28N","c":"w28","x":0.4475,"y":9.86e-11},{"s":"W28N","c":"w28","x":0.5831,"y":1.362e-10},{"s":"W28N","c":"w28","x":0.8294,"y":1.567e-10},{"s":"W28N","c":"w28","x":1.18,"y":1.523e-10},{"s":"W28N","c":"w28","x":1.68,"y":1.324e-10},{"s":"W28N","c":"w28","x":2.389,"y":9.588e-11},{"s":"W28N","c":"w28","x":3.4,"y":5.867e-11},{"s":"W28N","c":"w28","x":4.836,"y":2.526e-11},{"s":"W28N","c":"w28","x":7.516,"y":1.167e-11},{"s":"W28N","c":"w28","x":11.68,"y":5.784e-12},{"s":"W28N","c":"w28","x":19.82,"y":2.672e-12},{"s":"W28N","c":"w28","x":40.12,"y":1e-12},{"s":"W28N","c":"w28","x":68.1,"y":4.956e-13},{"s":"W28N","c":"w28","x":144,"y":1.778e-13},
{"s":"W49B","c":"w49a","x":0.2523,"y":2.195e-11},{"s":"W49B","c":"w49a","x":0.3146,"y":4.43e-11},{"s":"W49B","c":"w49a","x":0.4596,"y":7.447e-11},{"s":"W49B","c":"w49a","x":0.7798,"y":6.471e-11},{"s":"W49B","c":"w49a","x":1.18,"y":5.867e-11},{"s":"W49B","c":"w49a","x":1.68,"y":4.619e-11},{"s":"W49B","c":"w49a","x":2.131,"y":3.849e-11},{"s":"W49B","c":"w49a","x":2.85,"y":2.634e-11},{"s":"W49B","c":"w49a","x":4.055,"y":1.545e-11},{"s":"W49B","c":"w49a","x":5.768,"y":8.812e-12},{"s":"W49B","c":"w49a","x":8.209,"y":5.026e-12},{"s":"W49B","c":"w49a","x":11.68,"y":3.074e-12},{"s":"W49B","c":"w49a","x":18.15,"y":1.073e-12},{"s":"W49B","c":"w49a","x":28.2,"y":3.743e-13},{"s":"W49B","c":"w49a","x":43.81,"y":1.252e-13},{"s":"W49B","c":"w49a","x":68.1,"y":4.246e-14},{"s":"W49B","c":"w49a","x":96.87,"y":1.705e-14},{"s":"W49B","c":"w49a","x":124,"y":9.064e-15},
{"s":"W49B","c":"w49b","x":3.4,"y":2.195e-11},{"s":"W49B","c":"w49b","x":4.836,"y":1.088e-11},{"s":"W49B","c":"w49b","x":7.516,"y":4.685e-12},{"s":"W49B","c":"w49b","x":11.68,"y":2.597e-12},{"s":"W49B","c":"w49b","x":17.06,"y":1.753e-12},{"s":"W49B","c":"w49b","x":21.64,"y":8.331e-13},{"s":"W49B","c":"w49b","x":28.2,"y":4.306e-13},{"s":"W49B","c":"w49b","x":43.81,"y":1.401e-13},{"s":"W49B","c":"w49b","x":68.1,"y":3.44e-14},{"s":"W49B","c":"w49b","x":96.87,"y":6.655e-15},
{"s":"CTB 37A * 5","c":"c7a","x":0.2637,"y":1.502e-11},{"s":"CTB 37A * 5","c":"c7a","x":0.323,"y":3.207e-11},{"s":"CTB 37A * 5","c":"c7a","x":0.41,"y":5.096e-11},{"s":"CTB 37A * 5","c":"c7a","x":0.5339,"y":7.447e-11},{"s":"CTB 37A * 5","c":"c7a","x":0.7798,"y":9.588e-11},{"s":"CTB 37A * 5","c":"c7a","x":1.052,"y":1.028e-10},{"s":"CTB 37A * 5","c":"c7a","x":1.408,"y":1e-10},{"s":"CTB 37A * 5","c":"c7a","x":1.883,"y":8.939e-11},{"s":"CTB 37A * 5","c":"c7a","x":2.542,"y":7.447e-11},{"s":"CTB 37A * 5","c":"c7a","x":3.4,"y":5.704e-11},{"s":"CTB 37A * 5","c":"c7a","x":4.836,"y":3.588e-11},{"s":"CTB 37A * 5","c":"c7a","x":6.882,"y":2.195e-11},{"s":"CTB 37A * 5","c":"c7a","x":9.79,"y":1.44e-11},{"s":"CTB 37A * 5","c":"c7a","x":13.93,"y":1.088e-11},{"s":"CTB 37A * 5","c":"c7a","x":25.82,"y":7.14e-12},{"s":"CTB 37A * 5","c":"c7a","x":43.81,"y":4.685e-12},{"s":"CTB 37A * 5","c":"c7a","x":68.1,"y":3.074e-12},{"s":"CTB 37A * 5","c":"c7a","x":118.7,"y":2.105e-12},{"s":"CTB 37A * 5","c":"c7a","x":168.8,"y":1.481e-12},
{"s":"RX J1713-3946","c":"rx1","x":0.815,"y":1.88e-12},{"s":"RX J1713-3946","c":"rx1","x":1.289,"y":2.826e-12},{"s":"RX J1713-3946","c":"rx1","x":2.003,"y":4.43e-12},{"s":"RX J1713-3946","c":"rx1","x":3.112,"y":6.75e-12},{"s":"RX J1713-3946","c":"rx1","x":4.836,"y":1.028e-11},{"s":"RX J1713-3946","c":"rx1","x":7.516,"y":1.589e-11},{"s":"RX J1713-3946","c":"rx1","x":11.68,"y":2.422e-11},{"s":"RX J1713-3946","c":"rx1","x":18.15,"y":3.44e-11},{"s":"RX J1713-3946","c":"rx1","x":28.2,"y":4.188e-11},{"s":"RX J1713-3946","c":"rx1","x":43.81,"y":4.43e-11},{"s":"RX J1713-3946","c":"rx1","x":68.1,"y":3.849e-11},{"s":"RX J1713-3946","c":"rx1","x":96.87,"y":2.787e-11},{"s":"RX J1713-3946","c":"rx1","x":137.9,"y":1.658e-11},{"s":"RX J1713-3946","c":"rx1","x":179.6,"y":8.214e-12},{"s":"RX J1713-3946","c":"rx1","x":223.8,"y":3.074e-12},{"s":"RX J1713-3946","c":"rx1","x":267,"y":1e-12},{"s":"RX J1713-3946","c":"rx1","x":318.5,"y":2.826e-13},
{"s":"RX J0852-4622","c":"rx0","x":0.727,"y":3.162e-12},{"s":"RX J0852-4622","c":"rx0","x":0.989,"y":4.306e-12},{"s":"RX J0852-4622","c":"rx0","x":1.408,"y":6.118e-12},{"s":"RX J0852-4622","c":"rx0","x":2.003,"y":8.568e-12},{"s":"RX J0852-4622","c":"rx0","x":3.112,"y":1.252e-11},{"s":"RX J0852-4622","c":"rx0","x":4.836,"y":1.778e-11},{"s":"RX J0852-4622","c":"rx0","x":7.516,"y":2.456e-11},{"s":"RX J0852-4622","c":"rx0","x":11.68,"y":3.162e-11},{"s":"RX J0852-4622","c":"rx0","x":18.15,"y":3.743e-11},{"s":"RX J0852-4622","c":"rx0","x":28.2,"y":4.13e-11},{"s":"RX J0852-4622","c":"rx0","x":43.81,"y":4.246e-11},{"s":"RX J0852-4622","c":"rx0","x":68.1,"y":3.743e-11},{"s":"RX J0852-4622","c":"rx0","x":96.87,"y":2.826e-11},{"s":"RX J0852-4622","c":"rx0","x":137.9,"y":1.612e-11},{"s":"RX J0852-4622","c":"rx0","x":179.6,"y":7.658e-12},{"s":"RX J0852-4622","c":"rx0","x":223.8,"y":2.672e-12},{"s":"RX J0852-4622","c":"rx0","x":267,"y":8.69e-13},{"s":"RX J0852-4622","c":"rx0","x":318.5,"y":2.634e-13},
{"s":"RCW 86 * 5","c":"rcw","x":0.6368,"y":4.188e-12},{"s":"RCW 86 * 5","c":"rcw","x":0.989,"y":5.546e-12},{"s":"RCW 86 * 5","c":"rcw","x":1.537,"y":7.343e-12},{"s":"RCW 86 * 5","c":"rcw","x":2.389,"y":9.723e-12},{"s":"RCW 86 * 5","c":"rcw","x":3.713,"y":1.288e-11},{"s":"RCW 86 * 5","c":"rcw","x":5.768,"y":1.705e-11},{"s":"RCW 86 * 5","c":"rcw","x":10.05,"y":2.422e-11},{"s":"RCW 86 * 5","c":"rcw","x":18.15,"y":2.787e-11},{"s":"RCW 86 * 5","c":"rcw","x":28.2,"y":2.907e-11},{"s":"RCW 86 * 5","c":"rcw","x":43.81,"y":2.748e-11},{"s":"RCW 86 * 5","c":"rcw","x":62.34,"y":2.135e-11},{"s":"RCW 86 * 5","c":"rcw","x":88.72,"y":1.44e-11},{"s":"RCW 86 * 5","c":"rcw","x":126.2,"y":6.655e-12},{"s":"RCW 86 * 5","c":"rcw","x":174.9,"y":2.561e-12},{"s":"RCW 86 * 5","c":"rcw","x":204.9,"y":1.151e-12},{"s":"RCW 86 * 5","c":"rcw","x":244.4,"y":4.956e-13},
{"s":"SN1006NE * 50","c":"sn","x":0.7143,"y":4.071e-12},{"s":"SN1006NE * 50","c":"sn","x":1.081,"y":5.316e-12},{"s":"SN1006NE * 50","c":"sn","x":1.68,"y":7.14e-12},{"s":"SN1006NE * 50","c":"sn","x":2.609,"y":9.454e-12},{"s":"SN1006NE * 50","c":"sn","x":4.055,"y":1.252e-11},{"s":"SN1006NE * 50","c":"sn","x":6.882,"y":1.778e-11},{"s":"SN1006NE * 50","c":"sn","x":11.37,"y":2.456e-11},{"s":"SN1006NE * 50","c":"sn","x":18.15,"y":2.748e-11},{"s":"SN1006NE * 50","c":"sn","x":28.2,"y":2.787e-11},{"s":"SN1006NE * 50","c":"sn","x":43.81,"y":2.526e-11},{"s":"SN1006NE * 50","c":"sn","x":57.06,"y":1.962e-11},{"s":"SN1006NE * 50","c":"sn","x":74.36,"y":1.343e-11},{"s":"SN1006NE * 50","c":"sn","x":96.87,"y":7.14e-12},{"s":"SN1006NE * 50","c":"sn","x":120.7,"y":3.074e-12},{"s":"SN1006NE * 50","c":"sn","x":144,"y":1.523e-12},{"s":"SN1006NE * 50","c":"sn","x":164.4,"y":9.322e-13},{"s":"SN1006NE * 50","c":"sn","x":182.7,"y":6.381e-13},
{"s":"CTB 37B * 5","c":"c7b","x":0.6368,"y":6.033e-12},{"s":"CTB 37B * 5","c":"c7b","x":0.989,"y":8.69e-12},{"s":"CTB 37B * 5","c":"c7b","x":1.537,"y":1.167e-11},{"s":"CTB 37B * 5","c":"c7b","x":2.389,"y":1.481e-11},{"s":"CTB 37B * 5","c":"c7b","x":3.713,"y":1.753e-11},{"s":"CTB 37B * 5","c":"c7b","x":5.768,"y":1.907e-11},{"s":"CTB 37B * 5","c":"c7b","x":8.965,"y":1.778e-11},{"s":"CTB 37B * 5","c":"c7b","x":13.93,"y":1.343e-11},{"s":"CTB 37B * 5","c":"c7b","x":25.82,"y":7.14e-12},{"s":"CTB 37B * 5","c":"c7b","x":43.81,"y":4.555e-12},{"s":"CTB 37B * 5","c":"c7b","x":83.39,"y":2.561e-12}
],
"hessline": [{"x":1.007,"y":1.778e-13},{"x":318.5,"y":1.42e-13}],
"arrows": [
{"a":"a1","o":0,"x":0.3287,"y":4.013e-11},{"a":"a1","o":1,"x":0.02666,"y":2.634e-11},
{"a":"a1h","o":0,"x":0.03179,"y":3.074e-11},{"a":"a1h","o":1,"x":0.02666,"y":2.634e-11},{"a":"a1h","o":2,"x":0.03179,"y":2.355e-11},
{"a":"a2","o":0,"x":68.1,"y":1.343e-11},{"a":"a2","o":1,"x":644.7,"y":1.343e-13},
{"a":"a2h","o":0,"x":627.9,"y":1.778e-13},{"a":"a2h","o":1,"x":644.7,"y":1.343e-13},{"a":"a2h","o":2,"x":540.5,"y":1.46e-13},
{"a":"a3","o":0,"x":13.69,"y":1.306e-13},{"a":"a3","o":1,"x":644.7,"y":4.492e-14},
{"a":"a3h","o":0,"x":555,"y":5.39e-14},{"a":"a3h","o":1,"x":644.7,"y":4.492e-14},{"a":"a3h","o":2,"x":540.5,"y":4.071e-14}
],
"note": [{"x":685.7,"y":8.812e-14,"t":"Young SNRs\nevolving in a\nlow density\nenvironment"}],
"series": [{"s":"none"}]
},
"layer": [
{
"data": {"name": "curves"},
"mark": {"type": "line", "strokeWidth": 1.3},
"encoding": {
"x": {"field": "x", "type": "quantitative", "scale": {"type": "log", "domain": [0.1, 10000], "nice": false},
 "axis": {"orient": "top", "values": [0.1, 1, 10, 100, 1000, 10000], "tickSize": -14, "tickWidth": 1.5, "tickColor": "#000", "domain": true, "domainColor": "#000", "domainWidth": 1.5, "labels": false, "grid": false, "title": null}},
"y": {"field": "y", "type": "quantitative", "scale": {"type": "log", "domain": [2.672e-15, 1e-9], "nice": false},
 "axis": {"orient": "left", "values": [1e-14, 1e-13, 1e-12, 1e-11, 1e-10, 1e-9], "tickSize": -14, "tickWidth": 1.5, "tickColor": "#000", "domain": true, "domainColor": "#000", "domainWidth": 1.5, "grid": false,
 "labelFont": "Liberation Sans", "labelFontSize": 29, "labelColor": "#000", "labelPadding": 30,
 "labelExpr": "datum.value < 5e-15 ? '10⁻¹⁵' : datum.value < 5e-14 ? '10⁻¹⁴' : datum.value < 5e-13 ? '10⁻¹³' : datum.value < 5e-12 ? '10⁻¹²' : datum.value < 5e-11 ? '10⁻¹¹' : datum.value < 5e-10 ? '10⁻¹⁰' : '10⁻⁹'",
 "title": "E² dN/dE [erg cm⁻² s⁻¹]", "titleFont": "Liberation Sans", "titleFontSize": 32, "titleFontWeight": "normal", "titleColor": "#000", "titleX": -118, "titleY": 515, "titleAlign": "center", "titleBaseline": "middle", "titleAngle": 270}},
"color": {"field": "s", "type": "nominal", "legend": null,
 "scale": {"domain": ["HESS J1427-608 * 0.1","Cas A * 0.1","Tycho * 0.1","IC 443","W44","W51C","W28N","W49B","CTB 37A * 5","RX J1713-3946","RX J0852-4622","RCW 86 * 5","SN1006NE * 50","CTB 37B * 5"],
 "range": ["#ff0000","#00ff00","#4e7d1a","#0000ff","#191970","#1e90ff","#8470ff","#36648b","#add8e6","#ff4500","#ff00ff","#ffa040","#a52a2a","#ffc0cb"]}},
"detail": {"field": "c"}
}
},
{
"data": {"name": "hessline"},
"mark": {"type": "line", "strokeWidth": 3, "color": "#ff0000"},
"encoding": {
"x": {"field": "x", "type": "quantitative", "scale": {"type": "log", "domain": [0.1, 10000], "nice": false},
 "axis": {"orient": "top", "values": [0.3162, 3.162, 31.62, 316.2, 3162], "tickSize": -7, "tickWidth": 1.5, "tickColor": "#000", "domain": false, "labels": false, "grid": false, "title": null}},
"y": {"field": "y", "type": "quantitative", "scale": {"type": "log", "domain": [2.672e-15, 1e-9], "nice": false},
 "axis": {"orient": "left", "values": [3e-15,4e-15,5e-15,6e-15,7e-15,8e-15,9e-15,2e-14,3e-14,4e-14,5e-14,6e-14,7e-14,8e-14,9e-14,2e-13,3e-13,4e-13,5e-13,6e-13,7e-13,8e-13,9e-13,2e-12,3e-12,4e-12,5e-12,6e-12,7e-12,8e-12,9e-12,2e-11,3e-11,4e-11,5e-11,6e-11,7e-11,8e-11,9e-11,2e-10,3e-10,4e-10,5e-10,6e-10,7e-10,8e-10,9e-10], "tickSize": -7, "tickWidth": 1.5, "tickColor": "#000", "domain": false, "labels": false, "grid": false, "title": null}}
}
},
{
"data": {"name": "pts"},
"transform": [{"filter": "isValid(datum.lo)"}],
"mark": {"type": "errorbar", "ticks": {"size": 14, "thickness": 1.6}, "rule": {"strokeWidth": 1.6}},
"encoding": {
"x": {"field": "x", "type": "quantitative", "scale": {"type": "log", "domain": [0.1, 10000], "nice": false}, "axis": null},
"y": {"field": "lo", "type": "quantitative", "scale": {"type": "log", "domain": [2.672e-15, 1e-9], "nice": false}, "axis": null},
"y2": {"field": "hi"},
"color": {"field": "s", "type": "nominal", "legend": null}
}
},
{
"data": {"name": "pts"},
"transform": [{"filter": "isValid(datum.xl)"}],
"mark": {"type": "errorbar", "ticks": {"size": 14, "thickness": 1.6}, "rule": {"strokeWidth": 1.6}},
"encoding": {
"x": {"field": "xl", "type": "quantitative", "scale": {"type": "log", "domain": [0.1, 10000], "nice": false}, "axis": null},
"x2": {"field": "xh"},
"y": {"field": "y", "type": "quantitative", "scale": {"type": "log", "domain": [2.672e-15, 1e-9], "nice": false}, "axis": null},
"color": {"field": "s", "type": "nominal", "legend": null}
}
},
{
"data": {"name": "pts"},
"transform": [{"filter": "isValid(datum.ul)"}],
"mark": {"type": "rule", "strokeWidth": 1.8},
"encoding": {
"x": {"field": "x", "type": "quantitative", "scale": {"type": "log", "domain": [0.1, 10000], "nice": false}, "axis": null},
"y": {"field": "y", "type": "quantitative", "scale": {"type": "log", "domain": [2.672e-15, 1e-9], "nice": false}, "axis": null},
"y2": {"field": "ul"},
"color": {"field": "s", "type": "nominal", "legend": null}
}
},
{
"data": {"name": "pts"},
"transform": [{"filter": "isValid(datum.ul)"}],
"mark": {"type": "point", "shape": "triangle-down", "filled": true, "size": 80, "opacity": 1},
"encoding": {
"x": {"field": "x", "type": "quantitative", "scale": {"type": "log", "domain": [0.1, 10000], "nice": false}, "axis": null},
"y": {"field": "ul", "type": "quantitative", "scale": {"type": "log", "domain": [2.672e-15, 1e-9], "nice": false}, "axis": null},
"color": {"field": "s", "type": "nominal", "legend": null}
}
},
{
"data": {"name": "pts"},
"transform": [{"filter": "datum.s != 'HESS J1427-608 * 0.1'"}],
"mark": {"type": "point", "filled": true, "size": 30, "opacity": 1},
"encoding": {
"x": {"field": "x", "type": "quantitative", "scale": {"type": "log", "domain": [0.1, 10000], "nice": false}, "axis": null},
"y": {"field": "y", "type": "quantitative", "scale": {"type": "log", "domain": [2.672e-15, 1e-9], "nice": false},
 "axis": {"orient": "right", "values": [1e-14, 1e-13, 1e-12, 1e-11, 1e-10, 1e-9], "tickSize": -14, "tickWidth": 1.5, "tickColor": "#000", "domain": true, "domainColor": "#000", "domainWidth": 1.5, "labels": false, "grid": false, "title": null}},
"color": {"field": "s", "type": "nominal", "legend": null}
}
},
{
"data": {"name": "pts"},
"transform": [{"filter": "datum.s == 'HESS J1427-608 * 0.1'"}],
"mark": {"type": "point", "filled": true, "size": 290, "opacity": 1, "color": "#ff0000"},
"encoding": {
"x": {"field": "x", "type": "quantitative", "scale": {"type": "log", "domain": [0.1, 10000], "nice": false}, "axis": null},
"y": {"field": "y", "type": "quantitative", "scale": {"type": "log", "domain": [2.672e-15, 1e-9], "nice": false},
 "axis": {"orient": "right", "values": [3e-15,4e-15,5e-15,6e-15,7e-15,8e-15,9e-15,2e-14,3e-14,4e-14,5e-14,6e-14,7e-14,8e-14,9e-14,2e-13,3e-13,4e-13,5e-13,6e-13,7e-13,8e-13,9e-13,2e-12,3e-12,4e-12,5e-12,6e-12,7e-12,8e-12,9e-12,2e-11,3e-11,4e-11,5e-11,6e-11,7e-11,8e-11,9e-11,2e-10,3e-10,4e-10,5e-10,6e-10,7e-10,8e-10,9e-10], "tickSize": -7, "tickWidth": 1.5, "tickColor": "#000", "domain": false, "labels": false, "grid": false, "title": null}}
}
},
{
"data": {"name": "arrows"},
"mark": {"type": "line", "strokeWidth": 4, "color": "#ff0000", "strokeCap": "round", "strokeJoin": "miter"},
"encoding": {
"x": {"field": "x", "type": "quantitative", "scale": {"type": "log", "domain": [0.1, 10000], "nice": false}, "axis": null},
"y": {"field": "y", "type": "quantitative", "scale": {"type": "log", "domain": [2.672e-15, 1e-9], "nice": false}, "axis": null},
"detail": {"field": "a"},
"order": {"field": "o"}
}
},
{
"data": {"name": "note"},
"mark": {"type": "text", "align": "left", "baseline": "alphabetic", "font": "Liberation Sans", "fontSize": 47.5, "color": "#000", "lineBreak": "\n", "lineHeight": 57.5},
"encoding": {
"x": {"field": "x", "type": "quantitative", "scale": {"type": "log", "domain": [0.1, 10000], "nice": false}, "axis": null},
"y": {"field": "y", "type": "quantitative", "scale": {"type": "log", "domain": [2.672e-15, 1e-9], "nice": false}, "axis": null},
"text": {"field": "t"}
}
},
{
"data": {"name": "series"},
"transform": [{"filter": "datum.s == 'zzz'"}],
"mark": {"type": "point", "filled": true, "size": 196, "strokeWidth": 1.6},
"encoding": {
"shape": {"field": "s", "type": "nominal",
 "scale": {"domain": ["HESS J1427-608 * 0.1","Cas A * 0.1","Tycho * 0.1","IC 443","W44","W51C","W28N","W49B","CTB 37A * 5","RX J1713-3946","RX J0852-4622","RCW 86 * 5","SN1006NE * 50","CTB 37B * 5","unused"],
 "range": ["M-6,0H6M-6,-1V1M6,-1V1M-1.3,0A1.3,1.3,0,1,1,1.3,0A1.3,1.3,0,1,1,-1.3,0Z",
 "M-6,0H6M-6,-1V1M6,-1V1M-0.45,0A0.45,0.45,0,1,1,0.45,0A0.45,0.45,0,1,1,-0.45,0Z",
 "M-6,0H6M-6,-1V1M6,-1V1M-0.45,0A0.45,0.45,0,1,1,0.45,0A0.45,0.45,0,1,1,-0.45,0Z",
 "M-6,0H6M-6,-1V1M6,-1V1M-0.45,0A0.45,0.45,0,1,1,0.45,0A0.45,0.45,0,1,1,-0.45,0Z",
 "M-6,0H6M-6,-1V1M6,-1V1M-0.45,0A0.45,0.45,0,1,1,0.45,0A0.45,0.45,0,1,1,-0.45,0Z",
 "M-6,0H6M-6,-1V1M6,-1V1M-0.45,0A0.45,0.45,0,1,1,0.45,0A0.45,0.45,0,1,1,-0.45,0Z",
 "M-6,0H6M-6,-1V1M6,-1V1M-0.45,0A0.45,0.45,0,1,1,0.45,0A0.45,0.45,0,1,1,-0.45,0Z",
 "M-6,0H6M-6,-1V1M6,-1V1M-0.45,0A0.45,0.45,0,1,1,0.45,0A0.45,0.45,0,1,1,-0.45,0Z",
 "M-6,0H6M-6,-1V1M6,-1V1M-0.45,0A0.45,0.45,0,1,1,0.45,0A0.45,0.45,0,1,1,-0.45,0Z",
 "M-6,0H6M-6,-1V1M6,-1V1M-0.45,0A0.45,0.45,0,1,1,0.45,0A0.45,0.45,0,1,1,-0.45,0Z",
 "M-6,0H6M-6,-1V1M6,-1V1M-0.45,0A0.45,0.45,0,1,1,0.45,0A0.45,0.45,0,1,1,-0.45,0Z",
 "M-6,0H6M-6,-1V1M6,-1V1M-0.45,0A0.45,0.45,0,1,1,0.45,0A0.45,0.45,0,1,1,-0.45,0Z",
 "M-6,0H6M-6,-1V1M6,-1V1M-0.45,0A0.45,0.45,0,1,1,0.45,0A0.45,0.45,0,1,1,-0.45,0Z",
 "M-6,0H6M-6,-1V1M6,-1V1M-0.45,0A0.45,0.45,0,1,1,0.45,0A0.45,0.45,0,1,1,-0.45,0Z",
 "circle"]},
 "legend": {"orient": "none", "legendX": 1216, "legendY": 16.5, "title": null,
  "values": ["HESS J1427-608 * 0.1","Cas A * 0.1","Tycho * 0.1","IC 443","W44","W51C","W28N","W49B","CTB 37A * 5","RX J1713-3946","RX J0852-4622","RCW 86 * 5","SN1006NE * 50","CTB 37B * 5"],
  "labelFont": "Liberation Sans", "labelFontSize": 29, "labelColor": "#000", "labelAlign": "right", "labelBaseline": "middle", "labelOffset": -74, "labelLimit": 600, "symbolSize": 196, "symbolStrokeWidth": 1.6, "symbolOpacity": 1, "rowPadding": 3, "padding": 0}},
"fill": {"field": "s", "type": "nominal",
 "scale": {"domain": ["HESS J1427-608 * 0.1","Cas A * 0.1","Tycho * 0.1","IC 443","W44","W51C","W28N","W49B","CTB 37A * 5","RX J1713-3946","RX J0852-4622","RCW 86 * 5","SN1006NE * 50","CTB 37B * 5","unused"],
 "range": ["#ff0000","#00ff00","#4e7d1a","#0000ff","#191970","#1e90ff","#8470ff","#36648b","#add8e6","#ff4500","#ff00ff","#ffa040","#a52a2a","#ffc0cb","#000000"]},
 "legend": {"orient": "none", "legendX": 1216, "legendY": 16.5, "title": null,
  "values": ["HESS J1427-608 * 0.1","Cas A * 0.1","Tycho * 0.1","IC 443","W44","W51C","W28N","W49B","CTB 37A * 5","RX J1713-3946","RX J0852-4622","RCW 86 * 5","SN1006NE * 50","CTB 37B * 5"],
  "labelFont": "Liberation Sans", "labelFontSize": 29, "labelColor": "#000", "labelAlign": "right", "labelBaseline": "middle", "labelOffset": -74, "labelLimit": 600, "symbolSize": 196, "symbolStrokeWidth": 1.6, "symbolOpacity": 1, "rowPadding": 3, "padding": 0}},
"stroke": {"field": "s", "type": "nominal",
 "scale": {"domain": ["HESS J1427-608 * 0.1","Cas A * 0.1","Tycho * 0.1","IC 443","W44","W51C","W28N","W49B","CTB 37A * 5","RX J1713-3946","RX J0852-4622","RCW 86 * 5","SN1006NE * 50","CTB 37B * 5","unused"],
 "range": ["#ff0000","#00ff00","#4e7d1a","#0000ff","#191970","#1e90ff","#8470ff","#36648b","#add8e6","#ff4500","#ff00ff","#ffa040","#a52a2a","#ffc0cb","#000000"]},
 "legend": {"orient": "none", "legendX": 1216, "legendY": 16.5, "title": null,
  "values": ["HESS J1427-608 * 0.1","Cas A * 0.1","Tycho * 0.1","IC 443","W44","W51C","W28N","W49B","CTB 37A * 5","RX J1713-3946","RX J0852-4622","RCW 86 * 5","SN1006NE * 50","CTB 37B * 5"],
  "labelFont": "Liberation Sans", "labelFontSize": 29, "labelColor": "#000", "labelAlign": "right", "labelBaseline": "middle", "labelOffset": -74, "labelLimit": 600, "symbolSize": 196, "symbolStrokeWidth": 1.6, "symbolOpacity": 1, "rowPadding": 3, "padding": 0}}
}
}
],
"resolve": {"axis": {"x": "independent", "y": "independent"}}
}
